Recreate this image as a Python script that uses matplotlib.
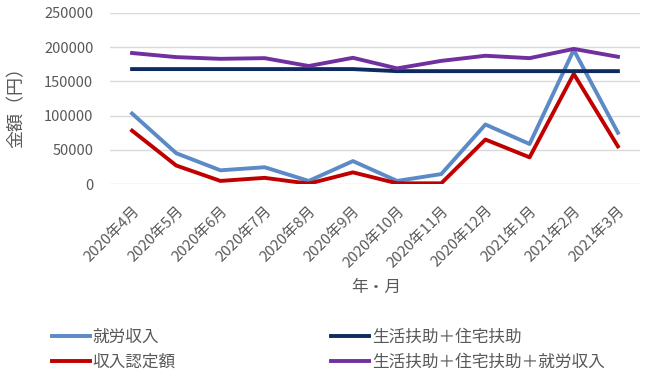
import matplotlib
matplotlib.use("Agg")
import matplotlib.pyplot as plt

plt.rcParams['font.family'] = ['Noto Sans CJK JP', 'DejaVu Sans']

months = ["2020年4月", "2020年5月", "2020年6月", "2020年7月", "2020年8月", "2020年9月",
          "2020年10月", "2020年11月", "2020年12月", "2021年1月", "2021年2月", "2021年3月"]
work_income = [103000, 45000, 20000, 24500, 4500, 33500, 4500, 14500, 87000, 58500, 196000, 75000]
recognized = [78000, 27000, 4500, 9000, 500, 17000, 1000, 1000, 65000, 39000, 161000, 55000]
assistance = [168000, 168000, 168000, 168000, 168000, 168000, 165000, 165000, 165000, 165000, 165000, 165000]
assistance_plus = [191500, 185500, 183000, 184000, 172500, 184500, 169000, 180000, 187500, 184000, 197500, 186000]

series = [
    ("就労収入", work_income, "#5B8AC7"),
    ("収入認定額", recognized, "#C00000"),
    ("生活扶助＋住宅扶助", assistance, "#0E2A5E"),
    ("生活扶助＋住宅扶助＋就労収入", assistance_plus, "#7030A0"),
]

fig = plt.figure(figsize=(6.5, 3.89), dpi=100)
ax = fig.add_axes([110/650, 1-184/389, 530/650, 171/389])

x = list(range(len(months)))
for label, vals, col in series:
    ax.plot(x, vals, color=col, lw=2.8, label=label, solid_joinstyle='round')

ax.set_xlim(-0.5, len(months)-0.5)
ax.set_ylim(0, 250000)
ax.set_yticks(range(0, 250001, 50000))
ax.yaxis.grid(True, color="#D9D9D9", lw=1)
ax.set_axisbelow(True)
for s in ax.spines.values():
    s.set_visible(False)
ax.tick_params(axis='both', length=0, colors="#595959")
ax.tick_params(axis='y', pad=12, labelsize=10.5)
ax.set_xticks(x)
ax.set_xticklabels(months, rotation=45, ha='right', rotation_mode='anchor', fontsize=10.8)
ax.tick_params(axis='x', pad=14)

fig.text(17/650, 1-103/389, "金額（円）", rotation=90, ha='center', va='center',
         fontsize=13, color="#595959")
fig.text(376/650, 1-287/389, "年・月", ha='center', va='center', fontsize=12, color="#595959")

handles, labels = ax.get_legend_handles_labels()
leg = fig.legend(handles, labels, ncol=2, loc='center left', bbox_to_anchor=(52/650, 1-350/389),
                 frameon=False, fontsize=12, handlelength=2.3, handletextpad=0.15,
                 columnspacing=9.3, labelspacing=0.5, labelcolor="#595959",
                 borderpad=0, borderaxespad=0)

fig.savefig("out.png", dpi=100)
